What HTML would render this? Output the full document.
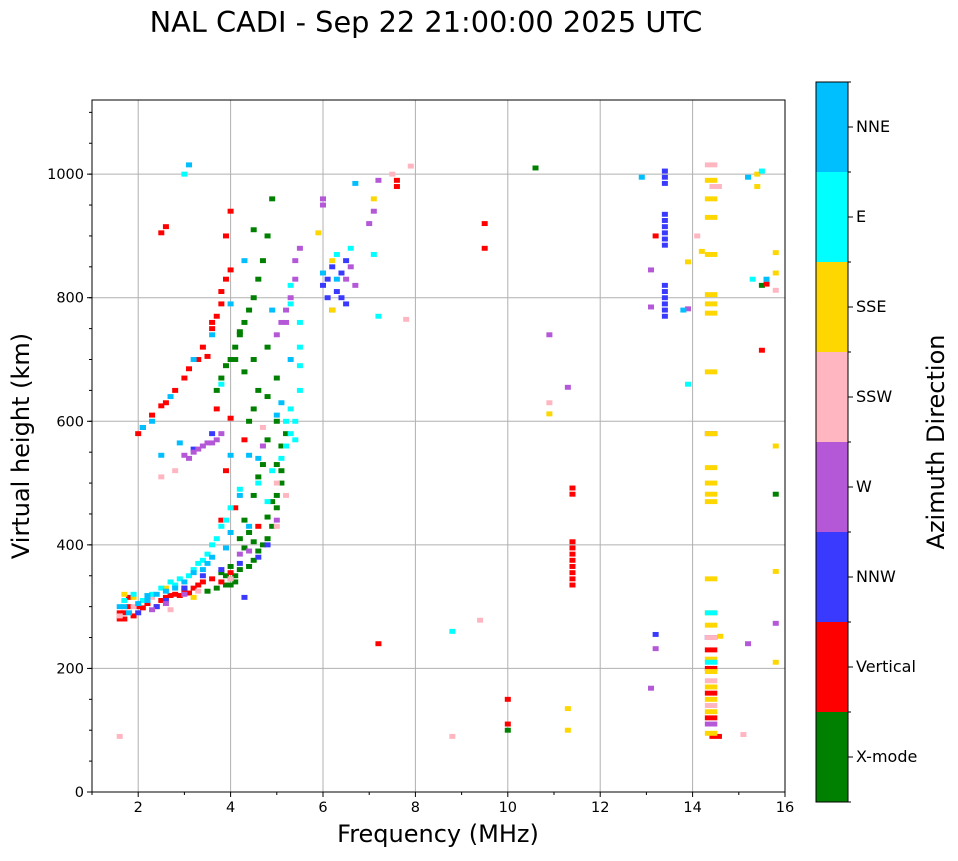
<!DOCTYPE html>
<html><head><meta charset="utf-8"><style>
body{margin:0;background:#fff;font-family:"DejaVu Sans",sans-serif}
svg text{font-family:"DejaVu Sans","Liberation Sans",sans-serif}
</style></head><body>
<svg id="chart" width="958" height="857" xmlns="http://www.w3.org/2000/svg">
<text x="426" y="32" font-size="28.8" text-anchor="middle">NAL CADI - Sep 22 21:00:00 2025 UTC</text>
<g id="grid"></g>
<g id="marks"></g>
<rect x="92" y="100" width="693" height="692" fill="none" stroke="#000" stroke-width="1"/>
<g id="axes"></g>
<text x="438" y="842" font-size="24" text-anchor="middle">Frequency (MHz)</text>
<text transform="translate(29,446) rotate(-90)" font-size="24" text-anchor="middle">Virtual height (km)</text>
<g id="cbar"></g>
<text transform="translate(944,442) rotate(-90)" font-size="24" text-anchor="middle">Azimuth Direction</text>
</svg>
<script>
const categories=["X-mode","Vertical","NNW","W","SSW","SSE","E","NNE"];
const catColors=["#008000","#ff0000","#3a3aff","#b458d8","#ffb6c1","#ffd700","#00ffff","#00bfff"];
const xTicks=[2,4,6,8,10,12,14,16];
const yTicks=[0,200,400,600,800,1000];
const xmode=[[3.5,325],[3.7,330],[3.9,335],[4.0,345],[4.1,350],[4.2,360],[4.4,365],[4.5,375],[4.6,390],[4.7,400],[4.8,410],[4.9,430],[4.8,445],[5.0,460],[5.0,480],[5.1,500],[5.0,530],[5.1,560],[5.2,580],[5.0,600],[4.8,570],[4.7,530],[4.6,510],[4.5,480],[4.4,420],[4.3,440],[4.2,410],[4.4,600],[4.5,620],[4.6,650],[4.8,640],[4.2,740],[4.1,720],[4.0,700],[4.3,760],[4.4,780],[4.5,800],[4.6,830],[4.7,860],[4.8,900],[4.9,960],[4.5,910],[3.8,670],[3.7,650],[3.9,690],[4.3,680],[4.5,700],[4.8,720],[5.0,670],[3.8,355],[4.0,365],[4.1,340],[4.3,395],[4.5,405],[4.0,335],[3.9,350],[4.9,470],[5.1,520],[4.2,745],[4.1,700],[10.6,1010],[10.0,100],[15.5,820],[15.8,482]];
const vertical=[[1.6,280],[1.7,290],[1.8,300],[1.9,285],[2.0,300],[2.2,305],[2.4,300],[2.6,315],[2.8,320],[3.0,325],[3.2,330],[3.4,340],[3.6,345],[3.8,340],[4.0,355],[3.0,330],[2.5,310],[1.8,315],[2.9,318],[3.3,335],[1.6,290],[1.7,280],[2.1,298],[2.7,318],[3.1,322],[2.0,580],[2.1,590],[2.3,610],[2.5,625],[2.6,630],[2.8,650],[3.0,670],[3.1,685],[3.3,700],[3.4,720],[3.6,750],[3.7,770],[3.8,790],[3.8,810],[3.9,830],[4.0,845],[3.9,900],[4.0,940],[2.5,905],[2.6,915],[3.5,705],[3.6,760],[4.0,605],[3.9,520],[4.1,460],[3.8,440],[3.7,620],[4.3,570],[4.6,430],[7.2,240],[7.6,980],[7.6,990],[9.5,920],[9.5,880],[10.0,150],[10.0,110],[11.4,335],[11.4,345],[11.4,355],[11.4,365],[11.4,375],[11.4,385],[11.4,395],[11.4,405],[11.4,482],[11.4,492],[13.2,900],[14.4,230],[14.4,200],[14.4,160],[14.4,120],[14.5,90],[15.5,715],[15.6,822]];
const nnw=[[2.0,290],[2.4,300],[2.6,310],[3.0,330],[3.4,350],[3.8,360],[4.2,370],[4.6,380],[4.8,400],[3.2,555],[3.6,580],[4.3,315],[6.0,820],[6.1,800],[6.2,780],[6.2,850],[6.3,810],[6.4,840],[6.5,860],[6.5,790],[6.4,800],[6.1,830],[13.4,1005],[13.4,995],[13.4,985],[13.4,935],[13.4,925],[13.4,915],[13.4,905],[13.4,895],[13.4,885],[13.4,820],[13.4,810],[13.4,800],[13.4,790],[13.4,780],[13.4,770],[13.2,255],[14.4,250]];
const west=[[2.3,295],[2.6,305],[3.0,320],[3.1,540],[3.2,550],[3.3,555],[3.4,560],[3.5,565],[3.6,565],[3.7,570],[3.8,580],[3.0,545],[4.2,385],[4.4,390],[5.0,440],[4.7,560],[5.0,740],[5.1,760],[5.2,780],[5.3,800],[5.4,830],[5.4,860],[5.5,880],[5.2,760],[6.0,960],[6.0,950],[6.5,830],[6.6,850],[6.7,820],[7.0,920],[7.1,940],[7.2,990],[10.9,740],[11.3,655],[13.1,845],[13.1,785],[13.2,232],[13.1,168],[14.4,580],[14.4,110],[15.2,240],[15.8,273],[13.9,782]];
const ssw=[[1.6,285],[1.9,300],[2.3,315],[2.7,295],[3.3,325],[4.0,345],[5.2,480],[5.0,430],[4.7,590],[5.0,500],[2.5,510],[2.8,520],[1.6,90],[8.8,90],[9.4,278],[14.1,900],[14.4,1015],[14.5,980],[14.4,250],[14.4,180],[14.4,140],[15.1,93],[7.8,765],[7.9,1013],[7.5,1000],[10.9,630],[15.8,812]];
const sse=[[1.7,320],[1.9,315],[2.6,330],[3.2,315],[6.2,780],[6.2,860],[5.9,905],[7.1,960],[11.3,135],[11.3,100],[10.9,612],[13.9,858],[14.2,875],[14.4,930],[14.4,870],[14.4,805],[14.4,790],[14.4,775],[14.4,680],[14.4,580],[14.4,525],[14.4,500],[14.4,482],[14.4,470],[14.4,345],[14.4,290],[14.4,270],[14.4,215],[14.4,195],[14.4,170],[14.4,150],[14.4,130],[14.4,95],[14.6,252],[15.4,980],[15.4,1000],[15.8,873],[15.8,840],[15.8,560],[15.8,357],[15.8,210],[14.4,990],[14.4,960]];
const east=[[1.7,310],[1.9,320],[2.1,310],[2.3,320],[2.5,330],[2.7,340],[2.9,345],[3.1,350],[3.3,370],[3.5,385],[3.6,400],[3.7,410],[3.8,430],[3.9,440],[4.0,460],[4.2,490],[4.6,500],[4.9,520],[5.1,540],[5.2,560],[5.3,580],[5.4,600],[5.3,620],[5.5,650],[5.5,690],[5.5,720],[5.5,760],[5.3,790],[4.8,470],[3.0,1000],[3.8,660],[5.3,820],[6.3,870],[6.6,880],[7.2,770],[7.1,870],[8.8,260],[13.9,660],[14.4,290],[14.4,210],[15.3,830],[15.5,1005],[3.4,375],[3.2,360],[2.8,335],[5.4,570],[5.2,600]];
const nne=[[1.6,300],[1.8,290],[2.0,305],[2.2,310],[2.4,320],[2.6,325],[2.8,330],[3.0,340],[3.2,355],[3.4,360],[3.6,380],[3.9,395],[4.0,420],[4.4,430],[4.2,480],[4.6,540],[4.4,545],[4.0,545],[2.9,565],[2.5,545],[2.1,590],[2.3,600],[2.7,640],[3.2,700],[3.6,740],[4.0,790],[4.3,860],[4.9,780],[5.3,700],[5.1,630],[3.1,1015],[6.0,840],[6.3,830],[6.7,985],[12.9,995],[13.8,780],[15.2,995],[15.6,830],[5.0,610],[1.7,300],[2.2,318],[3.5,370]];
const series=[xmode,vertical,nnw,west,ssw,sse,east,nne];

const NS="http://www.w3.org/2000/svg";
const X0=92,X1=785,Y0=792,Y1=100,FMIN=1,FMAX=16,HMIN=0,HMAX=1120;
const xs=f=>X0+(f-FMIN)/(FMAX-FMIN)*(X1-X0);
const ys=h=>Y0-(h-HMIN)/(HMAX-HMIN)*(Y0-Y1);
function mk(tag,at,parent){const e=document.createElementNS(NS,tag);for(const k in at)e.setAttribute(k,at[k]);parent.appendChild(e);return e;}
const grid=document.getElementById('grid'),axes=document.getElementById('axes'),marks=document.getElementById('marks');
xTicks.forEach(t=>{
  const g=mk('line',{x1:xs(t),x2:xs(t),y1:Y1,y2:Y0,stroke:'#b0b0b0','stroke-width':1},grid);
  
  
  mk('line',{x1:xs(t),x2:xs(t),y1:Y0,y2:Y0+5,stroke:'#000'},axes);
  const l=mk('text',{x:xs(t),y:Y0+20,'font-size':14.5,'text-anchor':'middle'},axes);l.textContent=t;
  
  
});
for(let t=1;t<=16;t+=2){mk('line',{x1:xs(t),x2:xs(t),y1:Y0,y2:Y0+3,stroke:'#000'},axes);}
yTicks.forEach(t=>{
  const g=mk('line',{x1:X0,x2:X1,y1:ys(t),y2:ys(t),stroke:'#b0b0b0','stroke-width':1},grid);
  
  
  mk('line',{x1:X0-5,x2:X0,y1:ys(t),y2:ys(t),stroke:'#000'},axes);
  const l=mk('text',{x:X0-8,y:ys(t)+5,'font-size':14.5,'text-anchor':'end'},axes);l.textContent=t;
  
  
});
for(let t=0;t<=1100;t+=50){mk('line',{x1:X0-3,x2:X0,y1:ys(t),y2:ys(t),stroke:'#000'},axes);}
const CW=0.13,CH=8;
series.forEach((arr,ci)=>{
  arr.forEach(p=>{
    const w=(p[0]>=14.3&&p[0]<=14.5)?0.27:CW;
    const r=mk('rect',{x:xs(p[0]-w/2),y:ys(p[1]+CH/2),width:xs(p[0]+w/2)-xs(p[0]-w/2),height:ys(p[1]-CH/2)-ys(p[1]+CH/2),fill:catColors[ci]},marks);
    
    
  });
});
const cb=document.getElementById('cbar');const CBX=816,CBW=32,CBT=82,CBB=802;const bh=(CBB-CBT)/categories.length;
categories.forEach((c,i)=>{
  const y=CBB-(i+1)*bh;
  const r=mk('rect',{x:CBX,y:y,width:CBW,height:bh,fill:catColors[i]},cb);
  
  
  mk('line',{x1:CBX+CBW,x2:CBX+CBW+5,y1:y+bh/2,y2:y+bh/2,stroke:'#000'},cb);
  const l=mk('text',{x:CBX+CBW+8,y:y+bh/2+5,'font-size':16},cb);l.textContent=c;
  
  
});
for(let i=0;i<=categories.length;i++){mk('line',{x1:CBX+CBW,x2:CBX+CBW+3,y1:CBT+i*bh,y2:CBT+i*bh,stroke:'#000'},cb);}
mk('rect',{x:CBX,y:CBT,width:CBW,height:CBB-CBT,fill:'none',stroke:'#000'},cb);
</script>
</body></html>
